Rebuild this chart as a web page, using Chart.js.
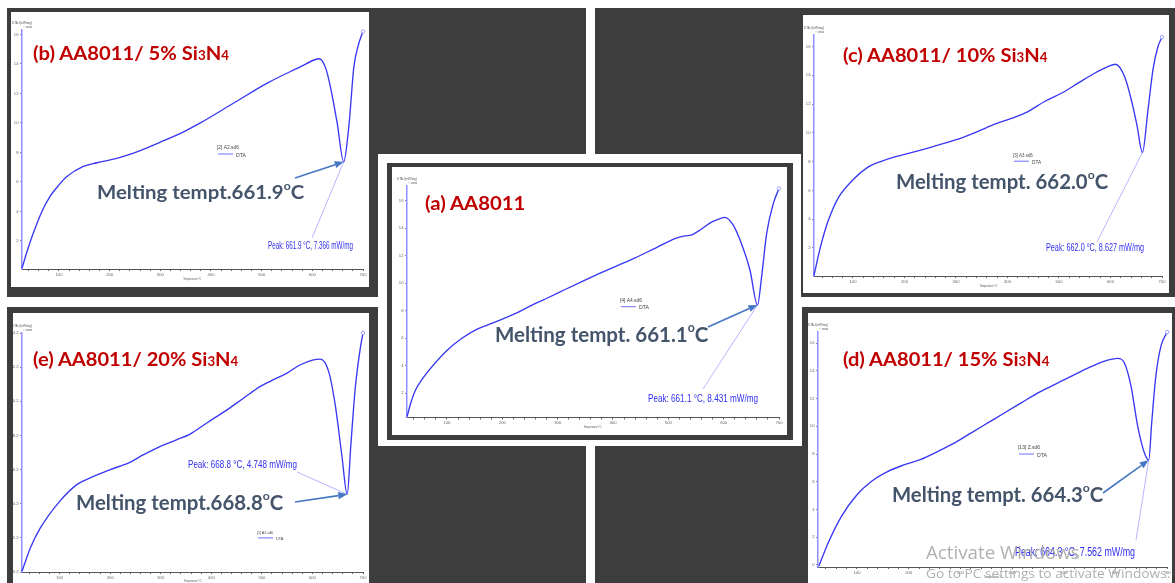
<!DOCTYPE html>
<html>
<head>
<meta charset="utf-8">
<script src="https://cdn.jsdelivr.net/npm/chart.js@4.4.1/dist/chart.umd.min.js"></script>
<style>
  body { margin: 0; background: #fff; }
  #page { position: relative; width: 1175px; height: 583px; overflow: hidden; background: #fff; }
  .dark { position: absolute; background: #3d3d3d; }
  .panel { position: absolute; background: #fff; }
  canvas { position: absolute; }
  .t { position: absolute; white-space: nowrap; font-family: Lato, "Open Sans", sans-serif; font-weight: 700; line-height: 1; transform-origin: left top; z-index: 3; }
  .title { color: #c00000; }
  .melt { color: #44546a; }
  .sb { font-size: 0.66em; }
  .deg { font-size: 0.6em; vertical-align: 0.8em; }
  .win { color: #b0b0b0; font-family: "Open Sans", sans-serif; font-weight: 400; }
</style>
</head>
<body>
<div id="page">
  <!-- dark frames -->
  <div class="dark" style="left:7px;top:8px;width:371px;height:289px"></div>
  <div class="dark" style="left:378px;top:8px;width:208px;height:146px"></div>
  <div class="dark" style="left:595px;top:8px;width:206px;height:146px"></div>
  <div class="dark" style="left:801px;top:8px;width:374px;height:289px"></div>
  <div class="dark" style="left:387px;top:163px;width:406px;height:277px"></div>
  <div class="dark" style="left:7px;top:307px;width:371px;height:276px"></div>
  <div class="dark" style="left:378px;top:446px;width:208px;height:137px"></div>
  <div class="dark" style="left:595px;top:446px;width:207px;height:137px"></div>
  <div class="dark" style="left:802px;top:307px;width:373px;height:276px"></div>

  <div class="panel" style="left:11px;top:12px;width:358px;height:275px"></div>
  <div class="panel" style="left:803px;top:15px;width:366px;height:278px"></div>
  <div class="panel" style="left:392px;top:167px;width:395px;height:268px"></div>
  <div class="panel" style="left:13px;top:313px;width:356px;height:270px"></div>
  <div class="panel" style="left:808px;top:313px;width:364px;height:270px"></div>

  <canvas id="cB"></canvas>
  <canvas id="cC"></canvas>
  <canvas id="cA"></canvas>
  <canvas id="cE"></canvas>
  <canvas id="cD"></canvas>

  <div class="t title" data-x="33" data-b="60" data-w="196" style="font-size:19.5px">(b) AA8011/ 5% Si<span class="sb">3</span>N<span class="sb">4</span></div>
  <div class="t title" data-x="843" data-b="62" data-w="204" style="font-size:19.5px">(c) AA8011/ 10% Si<span class="sb">3</span>N<span class="sb">4</span></div>
  <div class="t title" data-x="425" data-b="210" data-w="100" style="font-size:19.5px">(a) AA8011</div>
  <div class="t title" data-x="33" data-b="366" data-w="205" style="font-size:19.5px">(e) AA8011/ 20% Si<span class="sb">3</span>N<span class="sb">4</span></div>
  <div class="t title" data-x="843" data-b="366" data-w="206" style="font-size:19.5px">(d) AA8011/ 15% Si<span class="sb">3</span>N<span class="sb">4</span></div>

  <div class="t melt" data-x="97" data-b="199" data-w="207" style="font-size:19.5px">Melting tempt.661.9<span class="deg">o</span>C</div>
  <div class="t melt" data-x="896" data-b="189" data-w="212" style="font-size:20px">Melting tempt. 662.0<span class="deg">o</span>C</div>
  <div class="t melt" data-x="495" data-b="341.5" data-w="213" style="font-size:20.5px">Melting tempt. 661.1<span class="deg">o</span>C</div>
  <div class="t melt" data-x="76" data-b="510" data-w="207" style="font-size:20px">Melting tempt.668.8<span class="deg">o</span>C</div>
  <div class="t melt" data-x="892" data-b="502" data-w="211" style="font-size:20px">Melting tempt. 664.3<span class="deg">o</span>C</div>

  <div class="t win" data-x="926" data-b="559" data-w="154" style="font-size:18px">Activate Windows</div>
  <div class="t win" data-x="926" data-b="578" data-w="244" style="font-size:13.5px">Go to PC settings to activate Windows.</div>
</div>

<script>
// (a) AA8011
const tempA = [27.8, 35, 42.8, 54, 66.9, 100, 127, 151, 175, 199, 223, 253, 283.5, 313.6, 343.7, 373.8, 403.9, 440, 476, 512, 530, 542, 560, 578, 596, 602, 617, 632, 647.5, 661.1, 668.6, 677.6, 689.7, 700];
const dtaA  = [0.3, 1.35, 2.2, 2.95, 3.65, 5.12, 6.0, 6.6, 7.0, 7.38, 7.8, 8.4, 8.97, 9.55, 10.12, 10.68, 11.22, 11.85, 12.55, 13.25, 13.45, 13.52, 13.95, 14.45, 14.75, 14.8, 14.25, 12.9, 10.97, 8.431, 10.48, 13.6, 15.8, 16.9];

// (b) AA8011/ 5% Si3N4
const tempB = [27, 38, 49, 65, 82, 100, 115, 148, 175, 214, 247, 300, 346, 379, 445, 511, 576, 606, 613, 626, 636, 649, 661.9, 672, 682, 691, 700];
const dtaB  = [0.15, 1.4, 2.5, 3.9, 5.0, 5.8, 6.35, 7.05, 7.3, 7.6, 7.95, 8.7, 9.4, 10.0, 11.35, 12.7, 13.8, 14.3, 14.35, 13.75, 12.4, 10.0, 7.366, 9.75, 13.8, 15.3, 16.2];

// (c) AA8011/ 10% Si3N4
const tempC = [24.3, 32, 40, 51.5, 70.9, 100, 129, 155, 181, 213, 245.6, 278, 310, 342.7, 375, 407.4, 439.8, 472, 504.5, 536.9, 569, 595, 609.4, 627.5, 640.4, 651, 662.0, 672.8, 682.5, 692.2, 700];
const dtaC  = [0.07, 1.35, 2.5, 3.85, 5.45, 6.74, 7.62, 8.02, 8.33, 8.62, 8.94, 9.28, 9.63, 10.1, 10.6, 11.0, 11.48, 12.18, 12.75, 13.45, 14.14, 14.6, 14.77, 13.9, 12.3, 10.6, 8.627, 11.6, 14.4, 16.0, 16.65];

// (d) AA8011/ 15% Si3N4
const tempD = [26, 44, 69.7, 100, 127.7, 160, 192, 224, 256.6, 288.8, 321, 353, 385, 417.7, 450, 482, 514, 546.5, 578.7, 604.5, 617, 630, 643, 656, 664.3, 670, 678, 688, 700];
const dtaD  = [-0.1, 1.57, 3.49, 5.06, 6.02, 6.75, 7.23, 7.62, 8.19, 8.8, 9.52, 10.24, 10.96, 11.69, 12.41, 13.0, 13.6, 14.2, 14.7, 14.9, 14.58, 12.9, 10.0, 8.07, 7.562, 10.24, 13.6, 15.8, 16.8];

// (e) AA8011/ 20% Si3N4
const tempE = [25.5, 42, 61.8, 100, 134, 167, 200, 236.5, 266, 299, 332, 358, 391, 431, 464, 497, 516.6, 549.6, 576, 602, 615.5, 632, 645, 658, 668.8, 676, 684.7, 694.6, 700];
const dtaE  = [0.24, 1.61, 2.78, 4.34, 5.32, 5.8, 6.2, 6.59, 7.07, 7.56, 7.95, 8.28, 8.93, 9.7, 10.39, 11.07, 11.37, 11.85, 12.34, 12.63, 12.67, 11.95, 10.0, 7.07, 4.748, 7.66, 10.98, 13.3, 14.2];

const peakLabels = {
  A: 'Peak: 661.1 °C, 8.431 mW/mg',
  B: 'Peak: 661.9 °C, 7.366 mW/mg',
  C: 'Peak: 662.0 °C, 8.627 mW/mg',
  D: 'Peak: 664.3 °C, 7.562 mW/mg',
  E: 'Peak: 668.8 °C, 4.748 mW/mg'
};
const fileNames = { A: '[4] A4.sd6', B: '[2] A2.sd6', C: '[3] A3.sd6', D: '[13] Z.sd6', E: '[1] A1.sd6' };

const NARROW = '"Liberation Sans Narrow", "Liberation Sans", Arial, sans-serif';

function fitText(ctx, text, x, y, w, size, color, align) {
  ctx.save();
  ctx.font = size + 'px ' + NARROW;
  const m = ctx.measureText(text).width;
  ctx.translate(x, y);
  ctx.scale(w / m, 1);
  ctx.fillStyle = color;
  ctx.textAlign = 'left';
  ctx.textBaseline = 'alphabetic';
  ctx.fillText(text, align === 'right' ? -m : 0, 0);
  ctx.restore();
}

// labels, leader line, arrow, legend and axis titles
const dtaNotes = {
  id: 'dtaNotes',
  afterDraw(chart, args, o) {
    const {ctx, chartArea: a, scales: {x, y}} = chart;
    const ox = o.box.x, oy = o.box.y;
    const px = x.getPixelForValue(o.peakT), py = y.getPixelForValue(o.peakV);

    fitText(ctx, 'DTA /(mW/mg)', a.left + 10, a.top - 6, 20, 4.2, '#555', 'right');
    fitText(ctx, '↑ exo', a.left + 10, a.top - 2.2, 9, 4, '#555', 'right');
    const tx = x.getPixelForValue(363);
    fitText(ctx, 'Temperature /°C', tx - 9, a.bottom + o.xTitle, 18, 4, '#555');

    // leader line from peak label
    ctx.save();
    ctx.strokeStyle = '#a3a3ff';
    ctx.lineWidth = 0.8;
    ctx.beginPath();
    ctx.moveTo(o.leader[0] - ox, o.leader[1] - oy);
    ctx.lineTo(px, py);
    ctx.stroke();
    ctx.restore();

    const L = o.label;
    fitText(ctx, L.text, L.x - ox, L.y - oy, L.w, L.size, '#2f2ff0');

    if (o.arrow) {
      const sx = o.arrow[0] - ox, sy = o.arrow[1] - oy;
      const ang = Math.atan2(py - sy, px - sx);
      const hl = 9, hw = 3.6;
      const bx = px - hl * Math.cos(ang), by = py - hl * Math.sin(ang);
      ctx.save();
      ctx.strokeStyle = '#4677c4';
      ctx.fillStyle = '#4677c4';
      ctx.lineWidth = 1.6;
      ctx.beginPath();
      ctx.moveTo(sx, sy);
      ctx.lineTo(bx, by);
      ctx.stroke();
      ctx.beginPath();
      ctx.moveTo(px, py);
      ctx.lineTo(bx + hw * Math.sin(ang), by - hw * Math.cos(ang));
      ctx.lineTo(bx - hw * Math.sin(ang), by + hw * Math.cos(ang));
      ctx.closePath();
      ctx.fill();
      ctx.restore();
    }

    const g = o.legend, s = g.s, lx = g.x - ox, ly = g.y - oy;
    fitText(ctx, g.name, lx, ly, 22 * s, 5.5 * s, '#444');
    ctx.save();
    ctx.strokeStyle = '#6f6fff';
    ctx.lineWidth = 1;
    ctx.beginPath();
    ctx.moveTo(lx + 1, ly + 5 * s);
    ctx.lineTo(lx + 16, ly + 5 * s);
    ctx.stroke();
    ctx.restore();
    fitText(ctx, 'DTA', lx + 19, ly + 7.6 * s, 10 * s, 5.5 * s, '#444');
  }
};

Chart.defaults.font.family = NARROW;

function makeChart(id, temps, vals, box, area, xMin, yMin, yMax, notes) {
  const cv = document.getElementById(id);
  cv.width = box.w;
  cv.height = box.h;
  cv.style.left = box.x + 'px';
  cv.style.top = box.y + 'px';
  notes.box = box;
  const last = temps.length - 1;
  new Chart(cv, {
    type: 'line',
    data: {
      datasets: [{
        data: temps.map((t, i) => ({x: t, y: vals[i]})),
        borderColor: '#3838f4',
        borderWidth: 1.35,
        cubicInterpolationMode: 'monotone',
        fill: false,
        clip: 4,
        pointRadius: c => c.dataIndex === last ? 1.7 : 0,
        pointBorderColor: '#8c8cff',
        pointBackgroundColor: '#fff',
        pointBorderWidth: 0.8
      }]
    },
    options: {
      responsive: false,
      animation: false,
      events: [],
      layout: { padding: { left: 0, bottom: 0, top: area.t - box.y, right: box.x + box.w - area.r } },
      plugins: { legend: { display: false }, tooltip: { enabled: false }, dtaNotes: notes },
      scales: {
        x: {
          type: 'linear', min: xMin, max: 700,
          afterFit: s => { s.height = box.y + box.h - area.b; },
          ticks: { stepSize: 20, includeBounds: false, autoSkip: false, maxRotation: 0,
                   callback: v => (v % 100 === 0 ? v : ''), font: { size: 4.2 }, color: '#666', padding: 1 },
          grid: { drawOnChartArea: false, tickLength: 2, color: '#666' },
          border: { color: '#555', width: 1 }
        },
        y: {
          min: yMin, max: yMax,
          afterFit: s => { s.width = area.l - box.x; },
          ticks: { stepSize: 2, includeBounds: false, font: { size: 4.2 }, color: '#666', padding: 1.5 },
          grid: { drawOnChartArea: false, tickLength: 2, color: '#888' },
          border: { color: '#8f8fff', width: 1.5 }
        }
      }
    },
    plugins: [dtaNotes]
  });
}

function placeText() {
  document.querySelectorAll('.t').forEach(el => {
    const m = document.createElement('span');
    m.style.cssText = 'display:inline-block;width:0;height:0;vertical-align:baseline';
    el.appendChild(m);
    el.style.left = el.dataset.x + 'px';
    el.style.top = '0px';
    const base = m.offsetTop;
    el.style.top = (parseFloat(el.dataset.b) - base) + 'px';
    const w = el.offsetWidth;
    el.style.transform = 'scaleX(' + (parseFloat(el.dataset.w) / w) + ')';
  });
}

function drawAll() {
  makeChart('cB', tempB, dtaB, {x: 11, y: 12, w: 358, h: 275}, {l: 22, t: 30, r: 363, b: 269}, 27, 0.1, 16.3, {
    peakT: 661.9, peakV: 7.366, xTitle: 11,
    label: {text: peakLabels.B, x: 268, y: 249, w: 85, size: 10.5},
    leader: [312, 238], arrow: [295, 178],
    legend: {name: fileNames.B, x: 217, y: 149, s: 1}
  });
  makeChart('cC', tempC, dtaC, {x: 803, y: 15, w: 366, h: 278}, {l: 814, t: 35, r: 1162, b: 276}, 24.3, 0.05, 16.8, {
    peakT: 662.0, peakV: 8.627, xTitle: 11,
    label: {text: peakLabels.C, x: 1046, y: 251, w: 98, size: 10.5},
    leader: [1097, 242], arrow: null,
    legend: {name: fileNames.C, x: 1013, y: 156.7, s: 0.9}
  });
  makeChart('cA', tempA, dtaA, {x: 392, y: 167, w: 395, h: 268}, {l: 407, t: 186, r: 779, b: 417.5}, 27.8, 0.24, 17.08, {
    peakT: 661.1, peakV: 8.431, xTitle: 10,
    label: {text: peakLabels.A, x: 648, y: 401.5, w: 110, size: 10.8},
    leader: [703, 389], arrow: [708, 327],
    legend: {name: fileNames.A, x: 620, y: 301.7, s: 1}
  });
  makeChart('cE', tempE, dtaE, {x: 13, y: 313, w: 356, h: 270}, {l: 22, t: 333, r: 363, b: 572}, 25.5, 0.2, 14.2, {
    peakT: 668.8, peakV: 4.748, xTitle: 10,
    label: {text: peakLabels.E, x: 188, y: 468, w: 109, size: 10.8},
    leader: [297, 472], arrow: [295, 502],
    legend: {name: fileNames.E, x: 257, y: 534.3, s: 0.72}
  });
  makeChart('cD', tempD, dtaD, {x: 808, y: 313, w: 364, h: 270}, {l: 818, t: 332, r: 1168, b: 567}, 24.6, -0.15, 16.8, {
    peakT: 664.3, peakV: 7.562, xTitle: 11,
    label: {text: peakLabels.D, x: 1015, y: 555.5, w: 120, size: 12.5},
    leader: [1136, 540], arrow: [1103, 493],
    legend: {name: fileNames.D, x: 1018, y: 449, s: 1}
  });
  placeText();
}

if (document.fonts && document.fonts.ready) {
  document.fonts.ready.then(drawAll);
} else {
  drawAll();
}
</script>
</body>
</html>
